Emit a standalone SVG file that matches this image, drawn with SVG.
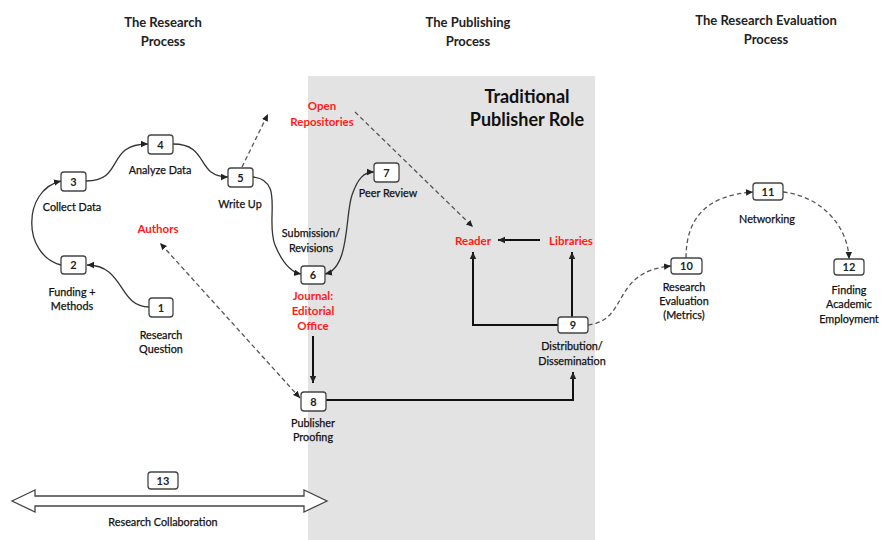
<svg xmlns="http://www.w3.org/2000/svg" width="882" height="540" viewBox="0 0 882 540">
  <style>
    text { font-family: Lato, "Open Sans", "Liberation Sans", sans-serif; text-anchor: middle; }
    .title { font-size: 13px; font-weight: bold; fill: #222; }
    .role { font-size: 18px; font-weight: bold; fill: #111; }
    .lbl { font-size: 10.8px; fill: #111; stroke: #111; stroke-width: 0.25; }
    .red { font-size: 11.5px; font-weight: bold; fill: #ff1a1a; }
    .num { font-size: 11px; font-weight: bold; fill: #222; }
    .box { fill: #fff; stroke: #444; stroke-width: 1.3; }
    .curve { fill: none; stroke: #333; stroke-width: 1.3; }
    .dash { fill: none; stroke: #555; stroke-width: 1.3; stroke-dasharray: 4.5 3; }
    .thick { fill: none; stroke: #111; stroke-width: 2; }
  </style>
  <defs>
    <marker id="ah" markerUnits="userSpaceOnUse" markerWidth="8" markerHeight="8" refX="7" refY="4" orient="auto-start-reverse">
      <path d="M0,0.8 L7,4 L0,7.2 Z" fill="#222"/>
    </marker>
  </defs>

  <!-- publisher area -->
  <rect x="308" y="76" width="287" height="464" fill="#e3e3e3"/>

  <!-- section headings -->
  <text class="title" x="163" y="27">The Research</text>
  <text class="title" x="163" y="46">Process</text>
  <text class="title" x="468" y="27">The Publishing</text>
  <text class="title" x="468" y="46">Process</text>
  <text class="title" x="766" y="25">The Research Evaluation</text>
  <text class="title" x="766" y="44">Process</text>
  <text class="role" x="527" y="103">Traditional</text>
  <text class="role" x="527" y="126">Publisher Role</text>

  <!-- connectors -->
  <g id="connectors">
    <path class="curve" d="M149,307 C118,307 125,265 87,265" marker-end="url(#ah)"/>
    <path class="curve" d="M61,265 C22,255 22,190 61,181" marker-end="url(#ah)"/>
    <path class="curve" d="M86,181 C125,181 105,144 148,144" marker-end="url(#ah)"/>
    <path class="curve" d="M173,144 C210,144 195,177 228,177" marker-end="url(#ah)"/>
    <path class="curve" d="M253,177 C285,180 265,220 275,245 C282,262 290,272 301,274" marker-end="url(#ah)"/>
    <path class="curve" d="M325,274 C350,268 345,215 352,195 C358,178 364,172 374,172" marker-start="url(#ah)" marker-end="url(#ah)"/>
    <path class="dash" d="M242,167 L268,114" marker-end="url(#ah)"/>
    <path class="dash" d="M355,112 L473,227" marker-end="url(#ah)"/>
    <path class="dash" d="M300,398 L160,243" marker-start="url(#ah)" marker-end="url(#ah)"/>
    <path class="thick" d="M540,240 L498,240" marker-end="url(#ah)"/>
    <path class="thick" d="M558,325 L473,325 L473,252" marker-end="url(#ah)"/>
    <path class="thick" d="M572,317 L572,252" marker-end="url(#ah)"/>
    <path class="thick" d="M313,336 L313,383" marker-end="url(#ah)"/>
    <path class="thick" d="M326,400 L573,400 L573,372" marker-end="url(#ah)"/>
    <path class="dash" d="M588,325 C630,320 610,272 671,266" marker-end="url(#ah)"/>
    <path class="dash" d="M686,258 C686,215 710,195 753,192" marker-end="url(#ah)"/>
    <path class="dash" d="M783,192 C820,196 848,225 849,259" marker-end="url(#ah)"/>
  </g>

  <!-- nodes -->
  <g id="n1"><rect class="box" x="149" y="298" width="24" height="19" rx="3"/><text class="num" x="161" y="311.5">1</text>
    <text class="lbl" x="161" y="339">Research</text><text class="lbl" x="161" y="353">Question</text></g>
  <g id="n2"><rect class="box" x="61" y="256" width="25" height="18" rx="3"/><text class="num" x="73.5" y="269">2</text>
    <text class="lbl" x="72" y="296">Funding +</text><text class="lbl" x="72" y="310">Methods</text></g>
  <g id="n3"><rect class="box" x="61" y="172" width="25" height="19" rx="3"/><text class="num" x="73.5" y="185.5">3</text>
    <text class="lbl" x="72" y="211">Collect Data</text></g>
  <g id="n4"><rect class="box" x="148" y="135" width="25" height="19" rx="3"/><text class="num" x="160.5" y="148.5">4</text>
    <text class="lbl" x="160" y="174">Analyze Data</text></g>
  <g id="n5"><rect class="box" x="228" y="168" width="25" height="19" rx="3"/><text class="num" x="240.5" y="181.5">5</text>
    <text class="lbl" x="240" y="208">Write Up</text></g>
  <g id="n6"><rect class="box" x="301" y="266" width="24" height="18" rx="3"/><text class="num" x="313" y="279">6</text>
    <text class="lbl" x="311" y="237">Submission/</text><text class="lbl" x="311" y="252">Revisions</text></g>
  <g id="n7"><rect class="box" x="374" y="163" width="25" height="19" rx="3"/><text class="num" x="386.5" y="176.5">7</text>
    <text class="lbl" x="388" y="197">Peer Review</text></g>
  <g id="n8"><rect class="box" x="301" y="392" width="25" height="19" rx="3"/><text class="num" x="313.5" y="405.5">8</text>
    <text class="lbl" x="313" y="427">Publisher</text><text class="lbl" x="313" y="441">Proofing</text></g>
  <g id="n9"><rect class="box" x="558" y="317" width="30" height="16" rx="3"/><text class="num" x="573" y="329">9</text>
    <text class="lbl" x="572" y="350">Distribution/</text><text class="lbl" x="572" y="365">Dissemination</text></g>
  <g id="n10"><rect class="box" x="671" y="258" width="31" height="16" rx="3"/><text class="num" x="686.5" y="270">10</text>
    <text class="lbl" x="684" y="291">Research</text><text class="lbl" x="684" y="305">Evaluation</text><text class="lbl" x="684" y="319">(Metrics)</text></g>
  <g id="n11"><rect class="box" x="753" y="183" width="30" height="17" rx="3"/><text class="num" x="768" y="195.5">11</text>
    <text class="lbl" x="767" y="223">Networking</text></g>
  <g id="n12"><rect class="box" x="834" y="259" width="30" height="16" rx="3"/><text class="num" x="849" y="271">12</text>
    <text class="lbl" x="849" y="294">Finding</text><text class="lbl" x="849" y="308">Academic</text><text class="lbl" x="849" y="323">Employment</text></g>
  <g id="n13">
    <rect class="box" x="148" y="472" width="30" height="17" rx="3"/><text class="num" x="163" y="484.5">13</text>
    <path d="M12,501 L35,490 L35,496 L304,496 L304,490 L327,501 L304,512 L304,506 L35,506 L35,512 Z" fill="#fff" stroke="#444" stroke-width="1.3" stroke-linejoin="miter"/>
    <text class="lbl" x="163" y="526">Research Collaboration</text>
  </g>

  <!-- actors -->
  <g id="authors"><text class="red" x="158" y="233">Authors</text></g>
  <g id="repositories"><text class="red" x="322" y="110">Open</text><text class="red" x="322" y="126">Repositories</text></g>
  <g id="journal"><text class="red" x="313" y="300">Journal:</text><text class="red" x="313" y="315">Editorial</text><text class="red" x="313" y="330">Office</text></g>
  <g id="reader"><text class="red" x="473" y="245">Reader</text></g>
  <g id="libraries"><text class="red" x="571" y="245">Libraries</text></g>
</svg>
